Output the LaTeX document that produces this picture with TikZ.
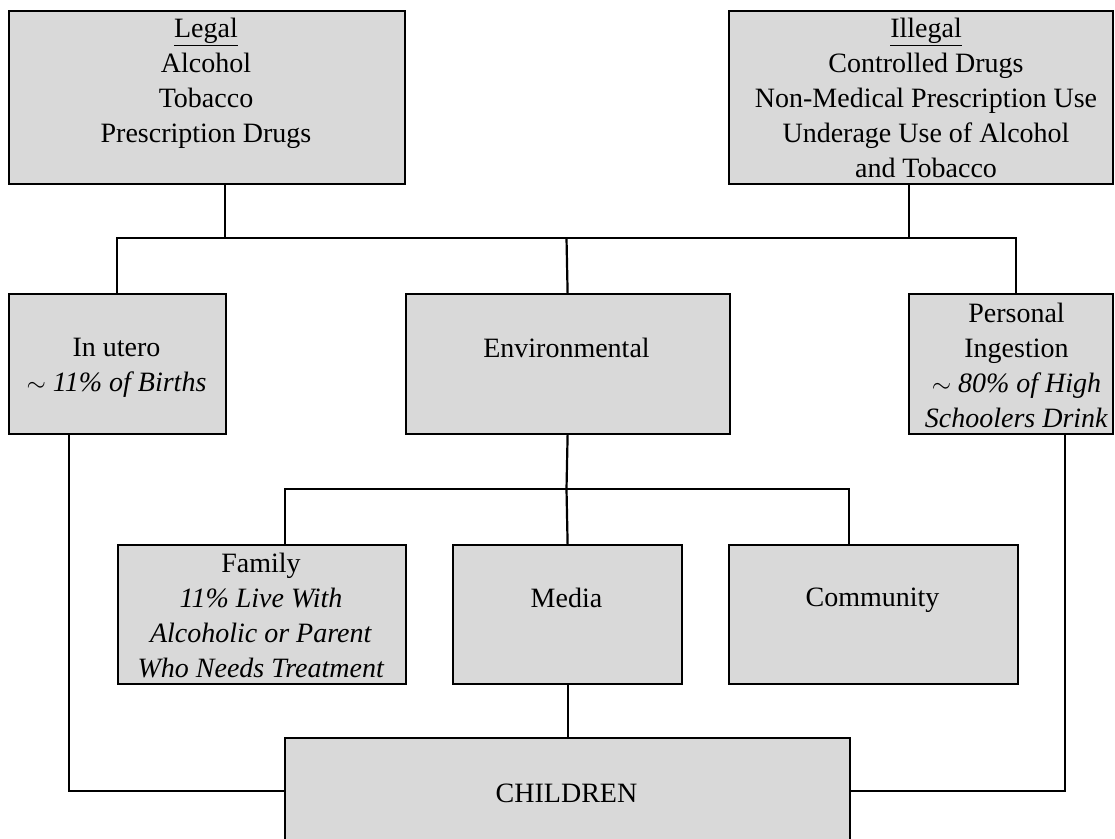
\documentclass[tikz,border=0pt]{standalone}
\usepackage{fontspec}
\setmainfont{Liberation Serif}
\definecolor{boxgray}{RGB}{217,217,217}
\begin{document}
\begin{tikzpicture}[x=1pt,y=-1pt,
  box/.style={draw=black, line width=2.2pt, fill=boxgray, rectangle, anchor=north west, inner sep=0pt},
  txt/.style={align=center, font=\fontsize{28}{35}\selectfont, inner sep=0pt, anchor=north},
  conn/.style={draw=black, line width=2.2pt, line join=miter}]
\useasboundingbox (0,0) rectangle (1115,838);
\clip (0,0) rectangle (1115,838);
% boxes
\node[box, minimum width=396pt, minimum height=173pt] (legal) at (8,10) {};
\node[box, minimum width=384pt, minimum height=173pt] (illegal) at (728,10) {};
\node[box, minimum width=217pt, minimum height=140pt] (inutero) at (8,293) {};
\node[box, minimum width=324pt, minimum height=140pt] (env) at (404.5,293) {};
\node[box, minimum width=204pt, minimum height=140pt] (personal) at (908,293) {};
\node[box, minimum width=288pt, minimum height=139pt] (family) at (117,544) {};
\node[box, minimum width=229pt, minimum height=139pt] (media) at (452,544) {};
\node[box, minimum width=289pt, minimum height=139pt] (community) at (728,544) {};
\node[box, minimum width=565pt, minimum height=125pt] (children) at (284,737) {};
% texts
\node[txt] (legalt) at (206,18) {\underline{Legal}\\Alcohol\\Tobacco\\Prescription Drugs};
\node[txt] (illegalt) at (926,18) {\underline{Illegal}\\Controlled Drugs\\Non-Medical Prescription Use\\Underage Use of Alcohol\\and Tobacco};
\node[txt] (inuterot) at (116.5,338) {In utero\\\textit{$\sim$ 11\% of Births}};
\node[txt] (envt) at (566.5,338) {Environmental};
\node[txt] (personalt) at (1016.5,303) {Personal\\Ingestion\\\textit{$\sim$ 80\% of High}\\\textit{Schoolers Drink}};
\node[txt] (familyt) at (261,553) {Family\\\textit{11\% Live With}\\\textit{Alcoholic or Parent}\\\textit{Who Needs Treatment}};
\node[txt] (mediat) at (566.5,588) {Media};
\node[txt] (communityt) at (872.5,588) {Community};
\node[txt, anchor=base] (childrent) at (566.5,802) {CHILDREN};
% junctions
\coordinate (j1) at (225,238);
\coordinate (j2) at (909,238);
\coordinate (b1l) at (117,238);
\coordinate (b1r) at (1016,238);
\coordinate (b1c) at (566.5,238);
\coordinate (b2c) at (566.5,489);
\coordinate (b2l) at (285,489);
\coordinate (b2r) at (849,489);
\coordinate (l1) at (69,791);
\coordinate (r1) at (1065,791);
% connectors
\draw[conn] (legal.south -| j1) -- (j1);
\draw[conn] (illegal.south -| j2) -- (j2);
\draw[conn] (inutero.north -| b1l) -- (b1l) -- (b1r) -- (personal.north -| b1r);
\draw[conn] (b1c) -- (env.north);
\draw[conn] (env.south) -- (b2c);
\draw[conn] (family.north -| b2l) -- (b2l) -- (b2r) -- (community.north -| b2r);
\draw[conn] (b2c) -- (media.north);
\draw[conn] (media.south) -- (children.north);
\draw[conn] (inutero.south -| l1) -- (l1) -- (l1 -| children.west);
\draw[conn] (personal.south -| r1) -- (r1) -- (r1 -| children.east);
\end{tikzpicture}
\end{document}
